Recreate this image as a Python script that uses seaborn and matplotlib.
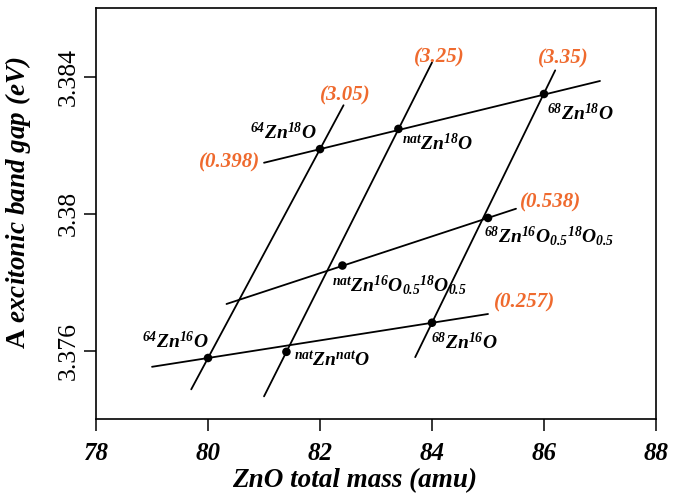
import numpy as np
import pandas as pd
import matplotlib
matplotlib.use("Agg")
import matplotlib.pyplot as plt
import seaborn as sns

# Measured A-exciton band gaps of the ZnO isotopologues
compounds = [r"$^{64}$Zn$^{16}$O", r"$^{nat}$Zn$^{nat}$O", r"$^{68}$Zn$^{16}$O",
             r"$^{nat}$Zn$^{16}$O$_{0.5}{}^{18}$O$_{0.5}$",
             r"$^{68}$Zn$^{16}$O$_{0.5}{}^{18}$O$_{0.5}$",
             r"$^{64}$Zn$^{18}$O", r"$^{nat}$Zn$^{18}$O", r"$^{68}$Zn$^{18}$O"]
masses = [80.0, 81.4, 84.0, 82.4, 85.0, 82.0, 83.4, 86.0]
gaps = [3.37579, 3.37597, 3.37682, 3.37849, 3.37988, 3.38189, 3.38248, 3.3835]

# Constant-Zn fits (slope in meV/amu), anchored at the 16O samples
zn_slopes = [3.05, 3.25, 3.35]
zn_anchor = [0, 1, 2]
zn_xrange = [(79.70, 82.42), (81.0, 84.0), (83.70, 86.20)]

# Constant-O fits (slope in meV/amu)
o_slopes = [0.257, 0.538, 0.398]
o_anchor = [0, 4, 5]
o_xrange = [(79.0, 85.0), (80.33, 85.5), (81.0, 87.0)]

x_ticks = [78, 80, 82, 84, 86, 88]
y_ticks = [3.376, 3.38, 3.384]

sns.set_style("ticks")
plt.rcParams["font.family"] = ["Liberation Serif", "DejaVu Serif"]
plt.rcParams["mathtext.fontset"] = "custom"
plt.rcParams["mathtext.rm"] = "Liberation Serif:bold:italic"
plt.rcParams["mathtext.it"] = "Liberation Serif:bold:italic"
plt.rcParams["mathtext.bf"] = "Liberation Serif:bold"
for key in ["text.color", "axes.labelcolor", "xtick.color", "ytick.color",
            "axes.edgecolor"]:
    plt.rcParams[key] = "black"

ORANGE = "#EF6A2E"

fig = plt.figure(figsize=(6.96, 4.93), dpi=100)
ax = fig.add_axes([0.138, 0.1495, 0.8045, 0.8335])


def fit_line(slope, x0, y0, xr):
    xs = np.array(xr)
    return xs, y0 + slope * 1e-3 * (xs - x0)


for s, a, xr in zip(zn_slopes + o_slopes, zn_anchor + o_anchor, zn_xrange + o_xrange):
    xs, ys = fit_line(s, masses[a], gaps[a], xr)
    sns.lineplot(x=xs, y=ys, color="black", lw=1.3, ax=ax, sort=False)

df = pd.DataFrame({"mass": masses, "gap": gaps})
sns.scatterplot(data=df, x="mass", y="gap", color="black", s=38,
                edgecolor="none", ax=ax, zorder=5)

# Sample labels
label_pos = [(78.82, 3.37608), (81.54, 3.37554), (83.98, 3.37605),
             (82.22, 3.37773), (84.92, 3.37916),
             (80.75, 3.38218), (83.46, 3.38185), (86.05, 3.38274)]
for txt, (lx, ly) in zip(compounds, label_pos):
    ax.text(lx, ly, txt, fontsize=14, fontweight="bold", fontstyle="italic",
            ha="left", va="baseline", color="black")

# Slope labels
slope_pos = [(82.46, 3.38347), (84.125, 3.38458), (86.34, 3.38455),
             (85.66, 3.3774), (86.125, 3.38032), (80.39, 3.38149)]
for s, (lx, ly) in zip(zn_slopes + o_slopes, slope_pos):
    ax.text(lx, ly, f"({s:g})", fontsize=15, fontweight="bold",
            fontstyle="italic", color=ORANGE, ha="center", va="center")

ax.set_xlim(78, 88)
ax.set_ylim(3.374, 3.386)
ax.set_xticks(x_ticks)
ax.set_xticklabels([str(t) for t in x_ticks], fontsize=18,
                   fontweight="bold", fontstyle="italic")
ax.set_yticks(y_ticks)
ax.set_yticklabels([f"{t:g}" for t in y_ticks], fontsize=18.5, rotation=90,
                   va="center")
ax.tick_params(axis="both", direction="out", length=8.5, width=1.1,
               colors="black", top=False, right=False)
ax.tick_params(axis="x", pad=8)
ax.tick_params(axis="y", pad=3)

for sp in ax.spines.values():
    sp.set_visible(True)
    sp.set_linewidth(1.2)
    sp.set_color("black")

ax.set_xlabel("ZnO total mass (amu)", fontsize=19.5, fontweight="bold",
              fontstyle="italic")
ax.xaxis.set_label_coords(0.4625, -0.118)
ax.set_ylabel(r"$\mathbf{A}$ excitonic band gap (eV)", fontsize=19.5,
              fontweight="bold", fontstyle="italic")
ax.yaxis.set_label_coords(-0.113, 0.526)

fig.savefig("out.png", dpi=100)
